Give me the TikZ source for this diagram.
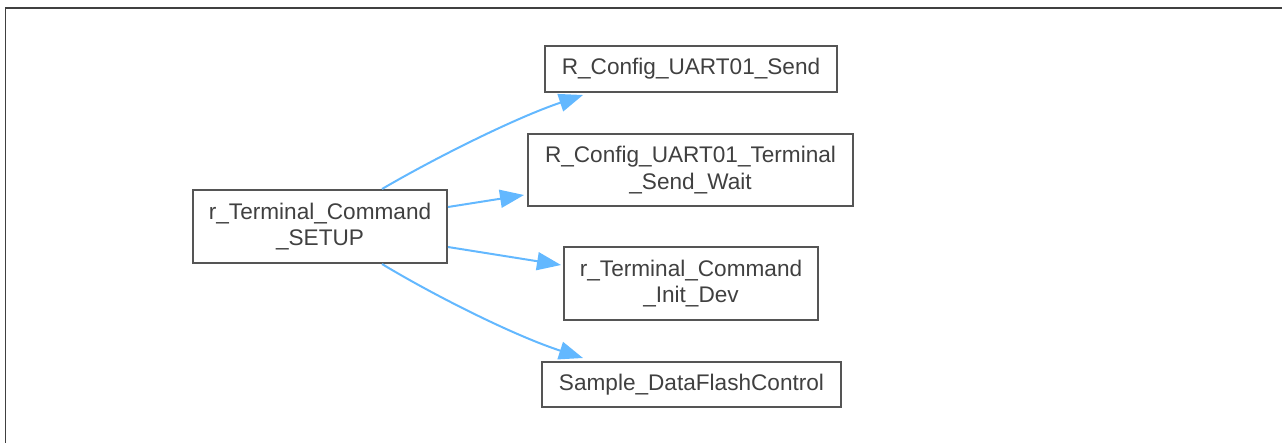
\documentclass[tikz,border=0pt]{standalone}
\usepackage{fontspec}
\setmainfont{Liberation Sans}
\usetikzlibrary{arrows.meta}
\definecolor{boxline}{RGB}{85,85,85}
\definecolor{txt}{RGB}{64,64,64}
\definecolor{edge}{RGB}{99,184,255}
\begin{document}
\begin{tikzpicture}[x=1pt,y=-1pt,
  fn/.style={draw=boxline,line width=2pt,text=txt,align=center,inner sep=0pt,
    font=\fontsize{22.6}{26.7}\selectfont},
  call/.style={draw=edge,line width=2pt,-{Triangle[length=24pt,width=18pt]}}]
\useasboundingbox (0,0) rectangle (1282,442);
\draw[black!75,line width=1.5pt] (5.5,8) rectangle (1295,460);
\node[fn,minimum width=254pt,minimum height=73pt] (src) at (320,226.5) {r\_Terminal\_Command\\\_SETUP};
\node[fn,minimum width=292pt,minimum height=46pt] (snd) at (691,69) {R\_Config\_UART01\_Send};
\node[fn,minimum width=325pt,minimum height=72pt] (wait) at (690.5,170) {R\_Config\_UART01\_Terminal\\\_Send\_Wait};
\node[fn,minimum width=254pt,minimum height=73pt] (init) at (691,283.5) {r\_Terminal\_Command\\\_Init\_Dev};
\node[fn,minimum width=299pt,minimum height=45pt] (smp) at (691.5,384.5) {Sample\_DataFlashControl};
\draw[call] ([xshift=62pt]src.north) .. controls (435,158) and (515,118) .. ([xshift=-108pt,yshift=-2pt]snd.south);
\draw[call] ([yshift=19.5pt]src.east) -- ([yshift=-25pt,xshift=-3pt]wait.west);
\draw[call] ([yshift=-20.5pt]src.east) -- ([yshift=18.5pt,xshift=-2pt]init.west);
\draw[call] ([xshift=62pt]src.south) .. controls (435,296) and (515,336) .. ([xshift=-108.5pt,yshift=3pt]smp.north);
\end{tikzpicture}
\end{document}
